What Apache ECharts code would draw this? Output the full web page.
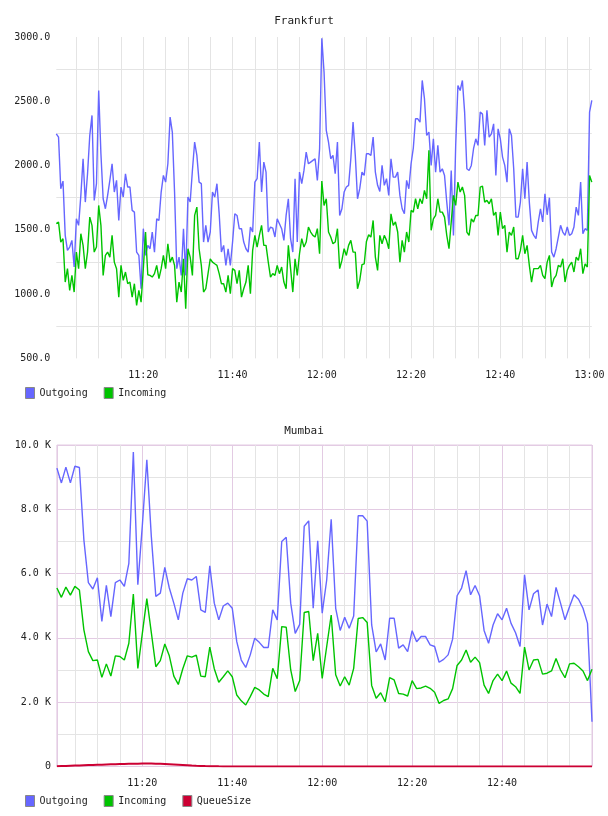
<!DOCTYPE html>
<html lang="en">
  <head>
    <meta charset="UTF-8" />
    <title>Frankfurt / Mumbai</title>
    <style>
      body {
        margin: 0;
        background: #ffffff;
      }
      #app {
        width: 608px;
        height: 816px;
      }
    </style>
  </head>
  <body>
    <div id="app"></div>
    <script src="https://cdn.jsdelivr.net/npm/echarts@6/dist/echarts.min.js"></script>
    <script>
      // minutes after 11:00, first sample and step
      var fraStart = 0.5
      var fraStep = 0.5
      var mumStart = 1
      var mumStep = 1

      var fraOutgoing = [
        2247, 2221, 1820, 1879, 1457, 1340, 1366, 1418, 1211, 1586,
        1535, 1768, 2053, 1716, 1936, 2234, 2390, 1729, 1859, 2584,
        2092, 1742, 1664, 1768, 1885, 2014, 1794, 1885, 1573, 1833,
        1755, 1936, 1833, 1833, 1651, 1638, 1327, 1301, 1042, 1509,
        1301, 1379, 1353, 1483, 1327, 1586, 1573, 1794, 1923, 1871,
        2014, 2377, 2260, 1794, 1198, 1288, 1146, 1509,
        1146, 1755, 1716, 1962, 2183, 2079, 1871, 1859, 1405, 1535,
        1405, 1483, 1794, 1755, 1859, 1625, 1327, 1379, 1224, 1353,
        1224, 1405, 1625, 1612, 1509, 1509, 1405, 1353, 1327, 1522,
        1483, 1871, 1898, 2183, 1794, 2027, 1949, 1483, 1522, 1514,
        1444, 1586, 1548, 1509, 1418, 1612, 1742, 1431, 1327, 1898,
        1405, 1949, 1859, 1962, 2105, 2014,
        2027, 2040, 2053, 1885, 2131, 2990, 2727, 2273, 2183, 2053,
        2079, 1936, 2183, 1612, 1664, 1794, 1833, 1846, 2053, 2338,
        2079, 1742, 1820, 1949, 1923, 2092, 2092, 2079, 2221, 1949,
        1846, 1799, 2001, 1846, 1898, 1768, 2053, 1910, 1910, 1949,
        1768, 1664, 1625, 1885, 1820, 2014, 2136, 2364, 2364, 2338,
        2662, 2520, 2234, 2260, 2001, 2208, 1949, 2157, 1949, 1975,
        1923, 1716, 1535,
        1962, 1457, 2157, 2623, 2584, 2662, 2416, 1975, 1962, 2001,
        2131, 2208, 2157, 2416, 2400, 2157, 2429, 2221, 2247, 2325,
        1923, 2286, 2208, 2066, 2001, 1871, 2286, 2234, 1975, 1599,
        1599, 1716, 1975, 1742, 2027, 1716, 1496, 1457, 1431, 1561,
        1664, 1561, 1781, 1617, 1750, 1327, 1288, 1353, 1444, 1535,
        1483, 1457, 1522, 1457, 1470, 1522, 1677, 1612, 1871, 1470,
        1509, 1496, 2416, 2507
      ]
      var fraIncoming = [
        1548, 1561, 1405, 1431, 1094, 1198, 1029, 1146, 1016, 1327,
        1198, 1470, 1379, 1198, 1327, 1599, 1535, 1327, 1366, 1690,
        1535, 1146, 1301, 1327, 1288, 1457, 1249, 1198, 976, 1224,
        1107, 1172, 1081, 1094, 976, 1081, 912, 1029, 938, 1198,
        1483, 1151, 1146, 1133, 1159, 1224, 1120, 1198, 1301, 1198,
        1392, 1249, 1288, 1224, 938, 1094, 1016, 1275,
        887, 1353, 1288, 1146, 1612, 1677, 1353, 1224, 1016, 1042,
        1159, 1275, 1249, 1236, 1224, 1159, 1081, 1081, 1016, 1146,
        1003, 1198, 1185, 1081, 1185, 977, 1042, 1094, 1224, 1003,
        1340, 1457, 1366, 1457, 1535, 1379, 1379, 1249, 1133, 1159,
        1146, 1224, 1159, 1211, 1094, 1042, 1379, 1198, 1016, 1275,
        1146, 1314, 1431, 1366, 1405, 1522,
        1483, 1457, 1444, 1509, 1314, 1880, 1690, 1742, 1483, 1444,
        1392, 1405, 1509, 1198, 1262, 1353, 1301, 1379, 1418, 1327,
        1327, 1042, 1107, 1229, 1236, 1410, 1462, 1444, 1573, 1288,
        1185, 1457, 1392, 1457, 1418, 1353, 1625, 1535, 1561, 1483,
        1249, 1418, 1327, 1483, 1405, 1651, 1638, 1742, 1664, 1742,
        1703, 1807, 1742, 2118, 1496, 1586, 1612, 1742, 1638, 1638,
        1599, 1457, 1353,
        1561, 1768, 1690, 1871, 1794, 1833, 1768, 1483, 1457, 1586,
        1561, 1612, 1612, 1833, 1840, 1716, 1729, 1703, 1742, 1612,
        1638, 1457, 1638, 1509, 1535, 1327, 1483, 1457, 1522, 1275,
        1275, 1340, 1457, 1314, 1379, 1224, 1094, 1198, 1198, 1198,
        1224, 1146, 1120, 1249, 1301, 1055, 1120, 1146, 1224, 1211,
        1275, 1094, 1185, 1224, 1249, 1172, 1288, 1262, 1353, 1159,
        1236, 1211, 1923, 1871
      ]

      var mumOutgoing = [
        9280, 8820, 9310, 8820, 9340, 9300, 7050, 5720, 5520, 5870,
        4510, 5630, 4660, 5720, 5800, 5600, 6320, 9780, 5650, 7500,
        9540, 7150, 5290, 5390, 6190, 5550, 5080, 4560, 5390, 5840,
        5800, 5910, 4870, 4790, 6240, 5080, 4560, 4990, 5080, 4920,
        3880, 3310, 3080, 3470, 3990, 3860, 3700, 3700, 4870, 4560,
        7000, 7130, 5080, 4140, 4420, 7470, 7640, 4920, 7020, 4770,
        5800, 7690, 4920, 4230, 4640, 4300, 4680, 7800, 7800, 7630,
        4400, 3560, 3810, 3310, 4610, 4610, 3680, 3780, 3570, 4220,
        3880, 4040, 4040, 3780, 3730, 3240, 3330, 3470, 3960, 5310,
        5550, 6090, 5340, 5630, 5310, 4230, 3830, 4400, 4750, 4560,
        4920, 4450, 4160, 3730, 5960, 4870, 5370, 5490, 4400, 5050,
        4660, 5570, 5080, 4560, 4970, 5340, 5200, 4920, 4450, 1390
      ]
      var mumIncoming = [
        5550, 5260, 5580, 5330, 5600, 5490, 4250, 3570, 3290, 3310,
        2770, 3190, 2810, 3440, 3420, 3310, 3830, 5360, 3050, 4140,
        5220, 4160, 3100, 3290, 3810, 3440, 2810, 2550, 3040, 3440,
        3400, 3460, 2810, 2790, 3710, 3040, 2620, 2790, 2970, 2790,
        2220, 2040, 1910, 2170, 2460, 2380, 2250, 2170, 3050, 2730,
        4350, 4330, 3000, 2330, 2670, 4790, 4820, 3290, 4140, 2740,
        3730, 4710, 2850, 2500, 2790, 2530, 3050, 4600, 4630, 4480,
        2520, 2120, 2290, 2010, 2760, 2690, 2270, 2250, 2190, 2670,
        2420, 2440, 2500, 2430, 2310, 1960, 2050, 2100, 2420, 3140,
        3310, 3620, 3240, 3400, 3230, 2530, 2270, 2670, 2870, 2670,
        2970, 2590, 2480, 2270, 3710, 3000, 3310, 3330, 2870, 2900,
        2970, 3360, 3000, 2760, 3190, 3210, 3100, 2970, 2670, 3020
      ]
      var mumQueue = [
        5, 10, 15, 20, 25, 30, 35, 40, 45, 50,
        55, 60, 64, 68, 72, 76, 80, 83, 85, 87,
        88, 88, 86, 82, 76, 68, 60, 52, 44, 36,
        28, 21, 15, 10, 6, 3, 1, 0, 0, 0,
        0, 0, 0, 0, 0, 0, 0, 0, 0, 0,
        0, 0, 0, 0, 0, 0, 0, 0, 0, 0,
        0, 0, 0, 0, 0, 0, 0, 0, 0, 0,
        0, 0, 0, 0, 0, 0, 0, 0, 0, 0,
        0, 0, 0, 0, 0, 0, 0, 0, 0, 0,
        0, 0, 0, 0, 0, 0, 0, 0, 0, 0,
        0, 0, 0, 0, 0, 0, 0, 0, 0, 0,
        0, 0, 0, 0, 0, 0, 0, 0, 0, 0
      ]

      var BLUE = '#6666ff'
      var GREEN = '#00c400'
      var RED = '#cc0033'
      var MONO = 'DejaVu Sans Mono'
      var GREY = '#e4e4e4'
      var PURPLE = '#e3cbe3'

      function pairs(values, start, step) {
        return values.map(function(v, i) {
          return [start + i * step, v]
        })
      }

      function clock(v, last) {
        if (v <= 0 || v % 20 !== 0 || v > last) return ''
        var h = 11 + Math.floor(v / 60)
        var m = v % 60
        return h + ':' + (m < 10 ? '0' + m : m)
      }

      function line(name, values, start, step, color, idx, width) {
        return {
          name: name,
          type: 'line',
          xAxisIndex: idx,
          yAxisIndex: idx,
          showSymbol: false,
          symbol: 'none',
          data: pairs(values, start, step),
          lineStyle: { color: color, width: width || 1.4 },
          itemStyle: { color: color }
        }
      }

      var labelStyle = { fontFamily: MONO, fontSize: 10, color: '#222' }

      var chart = echarts.init(document.getElementById('app'))
      chart.setOption({
        animation: false,
        textStyle: { fontFamily: MONO },
        title: [
          {
            text: 'Frankfurt',
            left: 'center',
            top: 16,
            padding: 0,
            textStyle: { fontFamily: MONO, fontSize: 11, fontWeight: 'normal', color: '#222' }
          },
          {
            text: 'Mumbai',
            left: 'center',
            top: 426,
            padding: 0,
            textStyle: { fontFamily: MONO, fontSize: 11, fontWeight: 'normal', color: '#222' }
          }
        ],
        legend: [
          {
            data: ['Outgoing', 'Incoming'],
            left: 25,
            top: 387,
            padding: 0,
            icon: 'rect',
            itemWidth: 9,
            itemHeight: 11,
            itemGap: 16,
            itemStyle: { borderColor: '#888', borderWidth: 1 },
            textStyle: labelStyle,
            selectedMode: false
          },
          {
            data: ['Outgoing', 'Incoming', 'QueueSize'],
            left: 25,
            top: 795,
            padding: 0,
            icon: 'rect',
            itemWidth: 9,
            itemHeight: 11,
            itemGap: 16,
            itemStyle: { borderColor: '#888', borderWidth: 1 },
            textStyle: labelStyle,
            selectedMode: false
          }
        ],
        grid: [
          { left: 56.3, top: 37, width: 535.5, height: 321.4 },
          {
            left: 56.9,
            top: 445,
            width: 535.1,
            height: 321.4,
            show: true,
            borderColor: PURPLE,
            borderWidth: 1
          }
        ],
        xAxis: [
          {
            type: 'value',
            gridIndex: 0,
            min: 0.5,
            max: 120.5,
            splitNumber: 24,
            minInterval: 5,
            maxInterval: 5,
            axisLine: { show: false },
            axisTick: { show: false },
            axisLabel: Object.assign({ margin: 12, formatter: function(v) { return clock(v, 120) } }, labelStyle),
            splitLine: { show: true, showMinLine: false, showMaxLine: false, lineStyle: { color: GREY, width: 1 } }
          },
          {
            type: 'value',
            gridIndex: 1,
            min: 1,
            max: 120,
            splitNumber: 24,
            minInterval: 5,
            maxInterval: 5,
            axisLine: { show: false },
            axisTick: { show: false },
            axisLabel: Object.assign({ margin: 12, formatter: function(v) { return clock(v, 119) } }, labelStyle),
            splitLine: { show: true, lineStyle: { color: [PURPLE, GREY, GREY, GREY], width: 1 } }
          }
        ],
        yAxis: [
          {
            type: 'value',
            gridIndex: 0,
            min: 500,
            max: 3000,
            interval: 250,
            axisLine: { show: false },
            axisTick: { show: false },
            axisLabel: Object.assign({
              margin: 6,
              formatter: function(v) { return v % 500 === 0 ? v.toFixed(1) : '' }
            }, labelStyle),
            splitLine: { show: true, lineStyle: { color: ['rgba(0,0,0,0)', GREY], width: 1 } }
          },
          {
            type: 'value',
            gridIndex: 1,
            min: 0,
            max: 10000,
            interval: 1000,
            axisLine: { show: false },
            axisTick: { show: false },
            axisLabel: Object.assign({
              margin: 6,
              formatter: function(v) {
                if (v % 2000 !== 0) return ''
                return v === 0 ? '0' : (v / 1000).toFixed(1) + ' K'
              }
            }, labelStyle),
            splitLine: { show: true, lineStyle: { color: [PURPLE, GREY], width: 1 } }
          }
        ],
        series: [
          line('Outgoing', fraOutgoing, fraStart, fraStep, BLUE, 0),
          line('Incoming', fraIncoming, fraStart, fraStep, GREEN, 0),
          line('Outgoing', mumOutgoing, mumStart, mumStep, BLUE, 1),
          line('Incoming', mumIncoming, mumStart, mumStep, GREEN, 1),
          line('QueueSize', mumQueue, mumStart, mumStep, RED, 1, 2)
        ]
      })
    </script>
  </body>
</html>
